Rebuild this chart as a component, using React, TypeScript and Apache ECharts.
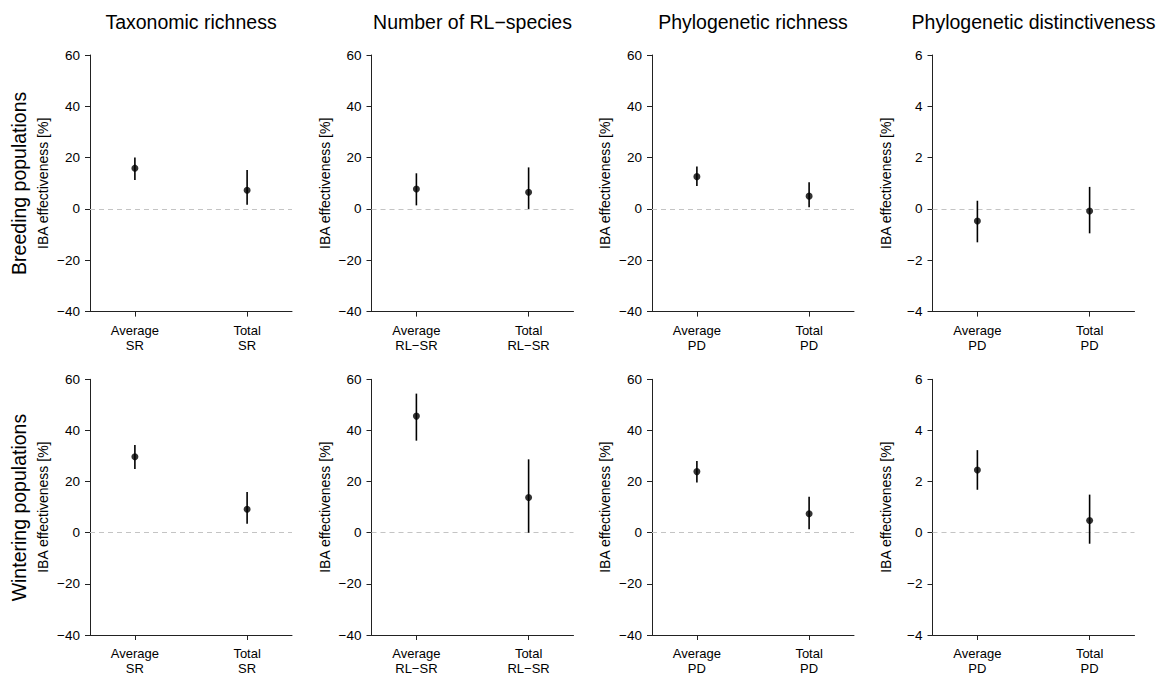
import React, { useEffect, useRef } from "react";
import * as echarts from "echarts";

const categories = ["Average", "Total"];
const panelTitles = [
  "Taxonomic richness",
  "Number of RL\u2212species",
  "Phylogenetic richness",
  "Phylogenetic distinctiveness",
];
const metricLabels = ["SR", "RL\u2212SR", "PD", "PD"];
const rowLabels = ["Breeding populations", "Wintering populations"];
const yAxisTitle = "IBA effectiveness [%]";

const yMins = [-40, -40, -40, -4];
const yMaxs = [60, 60, 60, 6];
const yIntervals = [20, 20, 20, 2];

// rows: breeding, wintering ; columns: SR, RL-SR, PD richness, PD distinctiveness ; [Average, Total]
const breedMean = [[15.9, 7.3], [7.8, 6.5], [12.6, 5.0], [-0.47, -0.08]];
const breedLow = [[11.3, 1.6], [1.4, 0.0], [8.9, 0.7], [-1.3, -0.95]];
const breedHigh = [[20.1, 15.2], [13.9, 16.2], [16.5, 10.4], [0.32, 0.86]];

const winterMean = [[29.7, 9.2], [45.6, 13.8], [23.9, 7.4], [2.45, 0.48]];
const winterLow = [[24.9, 3.5], [36.0, 0.0], [19.6, 1.4], [1.68, -0.43]];
const winterHigh = [[34.3, 15.9], [54.4, 28.7], [28.0, 14.1], [3.23, 1.49]];

const FONT = "Liberation Sans, Arial, Helvetica, sans-serif";

export default function App() {
  const ref = useRef<HTMLDivElement>(null);

  useEffect(() => {
    if (!ref.current) return;
    const chart = echarts.init(ref.current, undefined, { renderer: "svg" });

    const gridLefts = [90, 371.5, 652, 932.5];
    const gridTops = [55, 379.3];
    const gridW = 202;
    const gridH = 256.6;

    const rows = [
      { mean: breedMean, low: breedLow, high: breedHigh },
      { mean: winterMean, low: winterLow, high: winterHigh },
    ];

    const grids: any[] = [];
    const xAxes: any[] = [];
    const yAxes: any[] = [];
    const series: any[] = [];

    let idx = 0;
    rows.forEach((row, r) => {
      for (let c = 0; c < 4; c++) {
        grids.push({ left: gridLefts[c], top: gridTops[r], width: gridW, height: gridH });
        const metric = metricLabels[c];
        xAxes.push({
          gridIndex: idx,
          type: "value",
          min: 0.6,
          max: 2.4,
          splitLine: { show: false },
          axisLine: { show: true, onZero: false, lineStyle: { color: "#222", width: 1 } },
          axisTick: { show: true, length: 5, customValues: [1, 2], lineStyle: { color: "#222" } },
          axisLabel: {
            show: true,
            customValues: [1, 2],
            margin: 11,
            fontSize: 13,
            lineHeight: 15,
            color: "#000",
            fontFamily: FONT,
            formatter: (v: number) => {
              const i = Math.round(v) - 1;
              return categories[i] + "\n" + metric;
            },
          },
        });
        yAxes.push({
          gridIndex: idx,
          type: "value",
          min: yMins[c],
          max: yMaxs[c],
          interval: yIntervals[c],
          splitLine: { show: false },
          axisLine: { show: true, onZero: false, lineStyle: { color: "#222", width: 1 } },
          axisTick: { show: true, length: 5, lineStyle: { color: "#222" } },
          axisLabel: {
            margin: 10,
            fontSize: 13.5,
            color: "#000",
            fontFamily: FONT,
            formatter: (v: number) => String(v).replace("-", "\u2212"),
          },
          name: yAxisTitle,
          nameLocation: "middle",
          nameGap: 40,
          nameRotate: 90,
          nameTextStyle: { fontSize: 14, color: "#000", fontFamily: FONT },
        });

        const errData = [0, 1].map((k) => [k + 1, row.low[c][k], row.high[c][k]]);
        series.push({
          type: "custom",
          xAxisIndex: idx,
          yAxisIndex: idx,
          data: errData,
          encode: { x: 0, y: [1, 2] },
          renderItem: (params: any, api: any) => {
            const x = api.value(0);
            const lo = api.coord([x, api.value(1)]);
            const hi = api.coord([x, api.value(2)]);
            return {
              type: "line",
              shape: { x1: lo[0], y1: lo[1], x2: hi[0], y2: hi[1] },
              style: { stroke: "#000", lineWidth: 1.6 },
            };
          },
          z: 3,
        });
        series.push({
          type: "scatter",
          xAxisIndex: idx,
          yAxisIndex: idx,
          data: [0, 1].map((k) => [k + 1, row.mean[c][k]]),
          symbol: "circle",
          symbolSize: 7,
          itemStyle: { color: "#000" },
          z: 4,
          markLine: {
            silent: true,
            symbol: ["none", "none"],
            label: { show: false },
            lineStyle: { type: [5, 4], color: "#c4c4c4", width: 1.2 },
            data: [{ yAxis: 0 }],
            z: 1,
          },
        });
        idx++;
      }
    });

    const graphics: any[] = [];
    for (let c = 0; c < 4; c++) {
      graphics.push({
        type: "text",
        x: gridLefts[c] + gridW / 2,
        y: 22,
        style: {
          text: panelTitles[c],
          fontSize: 19.5,
          fontFamily: FONT,
          fill: "#000",
          textAlign: "center",
          textVerticalAlign: "middle",
        },
      });
    }
    for (let r = 0; r < 2; r++) {
      graphics.push({
        type: "text",
        x: 19,
        y: gridTops[r] + gridH / 2,
        rotation: Math.PI / 2,
        style: {
          text: rowLabels[r],
          fontSize: 19.5,
          fontFamily: FONT,
          fill: "#000",
          textAlign: "center",
          textVerticalAlign: "middle",
        },
      });
    }

    chart.setOption({
      animation: false,
      backgroundColor: "#fff",
      grid: grids,
      xAxis: xAxes,
      yAxis: yAxes,
      series,
      graphic: graphics,
    });

    return () => chart.dispose();
  }, []);

  return (
    <div
      ref={ref}
      style={{ position: "absolute", left: 0, top: 0, width: 1160, height: 676 }}
    />
  );
}
